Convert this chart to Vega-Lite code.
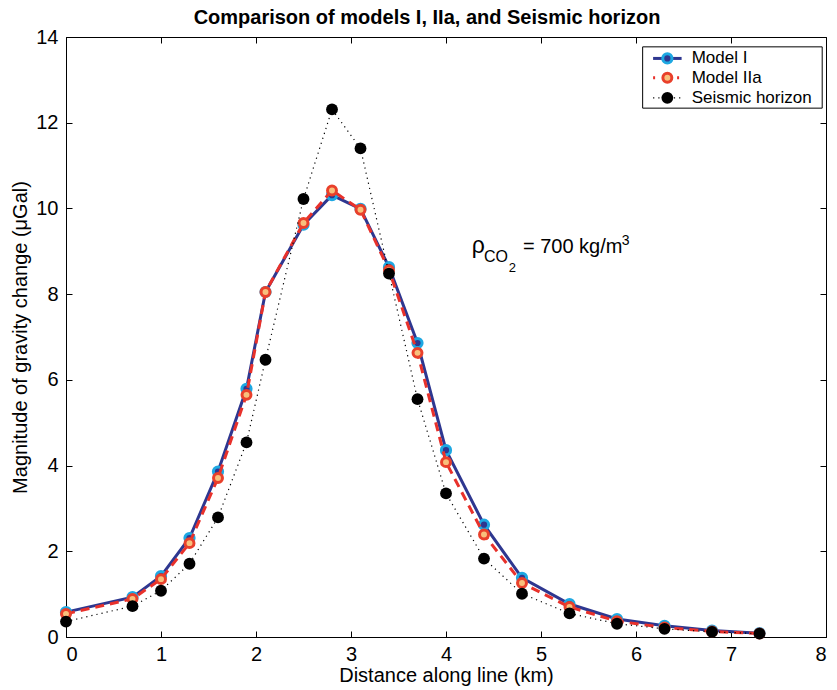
{
  "$schema": "https://vega.github.io/schema/vega-lite/v6.json",
  "width": 760,
  "height": 600,
  "autosize": "none",
  "padding": {"left": 66, "top": 37, "right": 11, "bottom": 53},
  "background": "white",
  "config": {
    "font": "Liberation Sans",
    "view": {"stroke": "black", "strokeWidth": 1},
    "axis": {
      "grid": false,
      "domainColor": "black",
      "tickColor": "black",
      "labelColor": "black",
      "titleColor": "black",
      "labelFont": "Liberation Sans",
      "titleFont": "Liberation Sans",
      "labelFontSize": 20,
      "titleFontSize": 20,
      "titleFontWeight": "normal"
    }
  },
  "title": {
    "text": "Comparison of models I, IIa, and Seismic horizon",
    "font": "Liberation Sans",
    "fontSize": 20,
    "fontWeight": "bold",
    "color": "black",
    "anchor": "middle",
    "dx": -19,
    "offset": -1
  },
  "datasets": {
    "d": [
      {"x": 0, "y": 0.58, "s": "Model I"},
      {"x": 0.7, "y": 0.93, "s": "Model I"},
      {"x": 1.0, "y": 1.42, "s": "Model I"},
      {"x": 1.3, "y": 2.31, "s": "Model I"},
      {"x": 1.6, "y": 3.86, "s": "Model I"},
      {"x": 1.9, "y": 5.79, "s": "Model I"},
      {"x": 2.1, "y": 8.05, "s": "Model I"},
      {"x": 2.5, "y": 9.62, "s": "Model I"},
      {"x": 2.8, "y": 10.31, "s": "Model I"},
      {"x": 3.1, "y": 9.99, "s": "Model I"},
      {"x": 3.4, "y": 8.63, "s": "Model I"},
      {"x": 3.7, "y": 6.86, "s": "Model I"},
      {"x": 4.0, "y": 4.36, "s": "Model I"},
      {"x": 4.4, "y": 2.62, "s": "Model I"},
      {"x": 4.8, "y": 1.38, "s": "Model I"},
      {"x": 5.3, "y": 0.77, "s": "Model I"},
      {"x": 5.8, "y": 0.42, "s": "Model I"},
      {"x": 6.3, "y": 0.26, "s": "Model I"},
      {"x": 6.8, "y": 0.15, "s": "Model I"},
      {"x": 7.3, "y": 0.09, "s": "Model I"},
      {"x": 0, "y": 0.54, "s": "Model IIa"},
      {"x": 0.7, "y": 0.89, "s": "Model IIa"},
      {"x": 1.0, "y": 1.35, "s": "Model IIa"},
      {"x": 1.3, "y": 2.19, "s": "Model IIa"},
      {"x": 1.6, "y": 3.71, "s": "Model IIa"},
      {"x": 1.9, "y": 5.65, "s": "Model IIa"},
      {"x": 2.1, "y": 8.05, "s": "Model IIa"},
      {"x": 2.5, "y": 9.66, "s": "Model IIa"},
      {"x": 2.8, "y": 10.42, "s": "Model IIa"},
      {"x": 3.1, "y": 9.97, "s": "Model IIa"},
      {"x": 3.4, "y": 8.56, "s": "Model IIa"},
      {"x": 3.7, "y": 6.63, "s": "Model IIa"},
      {"x": 4.0, "y": 4.08, "s": "Model IIa"},
      {"x": 4.4, "y": 2.39, "s": "Model IIa"},
      {"x": 4.8, "y": 1.26, "s": "Model IIa"},
      {"x": 5.3, "y": 0.70, "s": "Model IIa"},
      {"x": 5.8, "y": 0.37, "s": "Model IIa"},
      {"x": 6.3, "y": 0.22, "s": "Model IIa"},
      {"x": 6.8, "y": 0.13, "s": "Model IIa"},
      {"x": 7.3, "y": 0.08, "s": "Model IIa"},
      {"x": 0, "y": 0.36, "s": "Seismic horizon"},
      {"x": 0.7, "y": 0.72, "s": "Seismic horizon"},
      {"x": 1.0, "y": 1.08, "s": "Seismic horizon"},
      {"x": 1.3, "y": 1.71, "s": "Seismic horizon"},
      {"x": 1.6, "y": 2.79, "s": "Seismic horizon"},
      {"x": 1.9, "y": 4.54, "s": "Seismic horizon"},
      {"x": 2.1, "y": 6.47, "s": "Seismic horizon"},
      {"x": 2.5, "y": 10.22, "s": "Seismic horizon"},
      {"x": 2.8, "y": 12.31, "s": "Seismic horizon"},
      {"x": 3.1, "y": 11.40, "s": "Seismic horizon"},
      {"x": 3.4, "y": 8.48, "s": "Seismic horizon"},
      {"x": 3.7, "y": 5.55, "s": "Seismic horizon"},
      {"x": 4.0, "y": 3.35, "s": "Seismic horizon"},
      {"x": 4.4, "y": 1.83, "s": "Seismic horizon"},
      {"x": 4.8, "y": 1.01, "s": "Seismic horizon"},
      {"x": 5.3, "y": 0.55, "s": "Seismic horizon"},
      {"x": 5.8, "y": 0.31, "s": "Seismic horizon"},
      {"x": 6.3, "y": 0.19, "s": "Seismic horizon"},
      {"x": 6.8, "y": 0.12, "s": "Seismic horizon"},
      {"x": 7.3, "y": 0.08, "s": "Seismic horizon"}
    ]
  },
  "resolve": {"axis": {"x": "independent", "y": "independent"}},
  "layer": [
    {
      "data": {"name": "d"},
      "mark": {"type": "point", "opacity": 0},
      "encoding": {
        "x": {"field": "x", "type": "quantitative", "scale": {"domain": [0, 8], "nice": false, "zero": false},
              "axis": {"orient": "top", "labels": false, "title": null, "domain": false, "tickSize": -6, "values": [0,1,2,3,4,5,6,7,8]}},
        "y": {"field": "y", "type": "quantitative", "scale": {"domain": [0, 14], "nice": false, "zero": false},
              "axis": {"orient": "right", "labels": false, "title": null, "domain": false, "tickSize": -6, "values": [0,2,4,6,8,10,12,14]}}
      }
    },
    {
      "data": {"name": "d"},
      "encoding": {
        "x": {"field": "x", "type": "quantitative", "scale": {"domain": [0, 8], "nice": false, "zero": false},
              "axis": {"orient": "bottom", "title": "Distance along line (km)", "tickSize": -6, "labelPadding": 13, "titlePadding": 1, "values": [0,1,2,3,4,5,6,7,8]}},
        "y": {"field": "y", "type": "quantitative", "scale": {"domain": [0, 14], "nice": false, "zero": false},
              "axis": {"orient": "left", "title": "Magnitude of gravity change (μGal)", "tickSize": -6, "labelPadding": 14, "titlePadding": 5, "values": [0,2,4,6,8,10,12,14]}}
      },
      "layer": [
        {"transform": [{"filter": "datum.s === 'Model I'"}],
         "mark": {"type": "line", "color": "#2e3790", "strokeWidth": 3}},
        {"transform": [{"filter": "datum.s === 'Model I'"}],
         "mark": {"type": "point", "shape": "circle", "filled": true, "fill": "#2e3790", "stroke": "#1ea8e2", "strokeWidth": 3, "size": 85, "opacity": 1}},
        {"transform": [{"filter": "datum.s === 'Model IIa'"}],
         "mark": {"type": "line", "color": "#e8312b", "strokeWidth": 3, "strokeDash": [9, 6]}},
        {"transform": [{"filter": "datum.s === 'Model IIa'"}],
         "mark": {"type": "point", "shape": "circle", "filled": true, "fill": "#f8c07c", "stroke": "#e9402b", "strokeWidth": 3, "size": 80, "opacity": 1}},
        {"transform": [{"filter": "datum.s === 'Seismic horizon'"}],
         "mark": {"type": "line", "color": "black", "strokeWidth": 1.2, "strokeDash": [1.2, 4]}},
        {"transform": [{"filter": "datum.s === 'Seismic horizon'"}],
         "mark": {"type": "point", "shape": "circle", "filled": true, "fill": "black", "stroke": "black", "strokeWidth": 0, "size": 140, "opacity": 1}},
        {"transform": [{"filter": "datum.x === 0 && datum.s === 'Model I'"}],
         "mark": {"type": "text", "text": "ρ", "fontSize": 23, "align": "left", "baseline": "alphabetic", "color": "black"},
         "encoding": {"x": {"datum": 4.27}, "y": {"datum": 8.97}}},
        {"transform": [{"filter": "datum.x === 0 && datum.s === 'Model I'"}],
         "mark": {"type": "text", "text": "CO", "fontSize": 16, "align": "left", "baseline": "alphabetic", "color": "black"},
         "encoding": {"x": {"datum": 4.4}, "y": {"datum": 8.75}}},
        {"transform": [{"filter": "datum.x === 0 && datum.s === 'Model I'"}],
         "mark": {"type": "text", "text": "2", "fontSize": 13, "align": "left", "baseline": "alphabetic", "color": "black"},
         "encoding": {"x": {"datum": 4.66}, "y": {"datum": 8.52}}},
        {"transform": [{"filter": "datum.x === 0 && datum.s === 'Model I'"}],
         "mark": {"type": "text", "text": "= 700 kg/m", "fontSize": 20, "align": "left", "baseline": "alphabetic", "color": "black"},
         "encoding": {"x": {"datum": 4.81}, "y": {"datum": 8.97}}},
        {"transform": [{"filter": "datum.x === 0 && datum.s === 'Model I'"}],
         "mark": {"type": "text", "text": "3", "fontSize": 14, "align": "left", "baseline": "alphabetic", "color": "black"},
         "encoding": {"x": {"datum": 5.85}, "y": {"datum": 9.15}}},
        {"transform": [{"filter": "datum.x === 0 && datum.s === 'Model I'"}],
         "mark": {"type": "rect", "fill": "white", "stroke": "black", "strokeWidth": 1},
         "encoding": {"x": {"datum": 6.07}, "x2": {"datum": 7.96}, "y": {"datum": 12.34}, "y2": {"datum": 13.77}}},
        {"transform": [{"filter": "datum.x === 0 && datum.s === 'Model I'"}],
         "mark": {"type": "rule", "color": "#2e3790", "strokeWidth": 3},
         "encoding": {"x": {"datum": 6.18}, "x2": {"datum": 6.48}, "y": {"datum": 13.5}}},
        {"transform": [{"filter": "datum.x === 0 && datum.s === 'Model I'"}],
         "mark": {"type": "point", "shape": "circle", "filled": true, "fill": "#2e3790", "stroke": "#1ea8e2", "strokeWidth": 3, "size": 85, "opacity": 1},
         "encoding": {"x": {"datum": 6.33}, "y": {"datum": 13.5}}},
        {"transform": [{"filter": "datum.x === 0 && datum.s === 'Model I'"}],
         "mark": {"type": "rule", "color": "#e8312b", "strokeWidth": 3, "strokeDash": [2, 10]},
         "encoding": {"x": {"datum": 6.18}, "x2": {"datum": 6.48}, "y": {"datum": 13.05}}},
        {"transform": [{"filter": "datum.x === 0 && datum.s === 'Model I'"}],
         "mark": {"type": "point", "shape": "circle", "filled": true, "fill": "#f8c07c", "stroke": "#e9402b", "strokeWidth": 3, "size": 80, "opacity": 1},
         "encoding": {"x": {"datum": 6.33}, "y": {"datum": 13.05}}},
        {"transform": [{"filter": "datum.x === 0 && datum.s === 'Model I'"}],
         "mark": {"type": "rule", "color": "black", "strokeWidth": 1.2, "strokeDash": [1.2, 4]},
         "encoding": {"x": {"datum": 6.18}, "x2": {"datum": 6.48}, "y": {"datum": 12.58}}},
        {"transform": [{"filter": "datum.x === 0 && datum.s === 'Model I'"}],
         "mark": {"type": "point", "shape": "circle", "filled": true, "fill": "black", "strokeWidth": 0, "size": 140, "opacity": 1},
         "encoding": {"x": {"datum": 6.33}, "y": {"datum": 12.58}}},
        {"transform": [{"filter": "datum.x === 0 && datum.s === 'Model I'"}],
         "mark": {"type": "text", "text": "Model I", "fontSize": 17, "align": "left", "baseline": "middle", "color": "black"},
         "encoding": {"x": {"datum": 6.586}, "y": {"datum": 13.5}}},
        {"transform": [{"filter": "datum.x === 0 && datum.s === 'Model I'"}],
         "mark": {"type": "text", "text": "Model IIa", "fontSize": 17, "align": "left", "baseline": "middle", "color": "black"},
         "encoding": {"x": {"datum": 6.586}, "y": {"datum": 13.05}}},
        {"transform": [{"filter": "datum.x === 0 && datum.s === 'Model I'"}],
         "mark": {"type": "text", "text": "Seismic horizon", "fontSize": 17, "align": "left", "baseline": "middle", "color": "black"},
         "encoding": {"x": {"datum": 6.586}, "y": {"datum": 12.58}}}
      ]
    }
  ]
}
